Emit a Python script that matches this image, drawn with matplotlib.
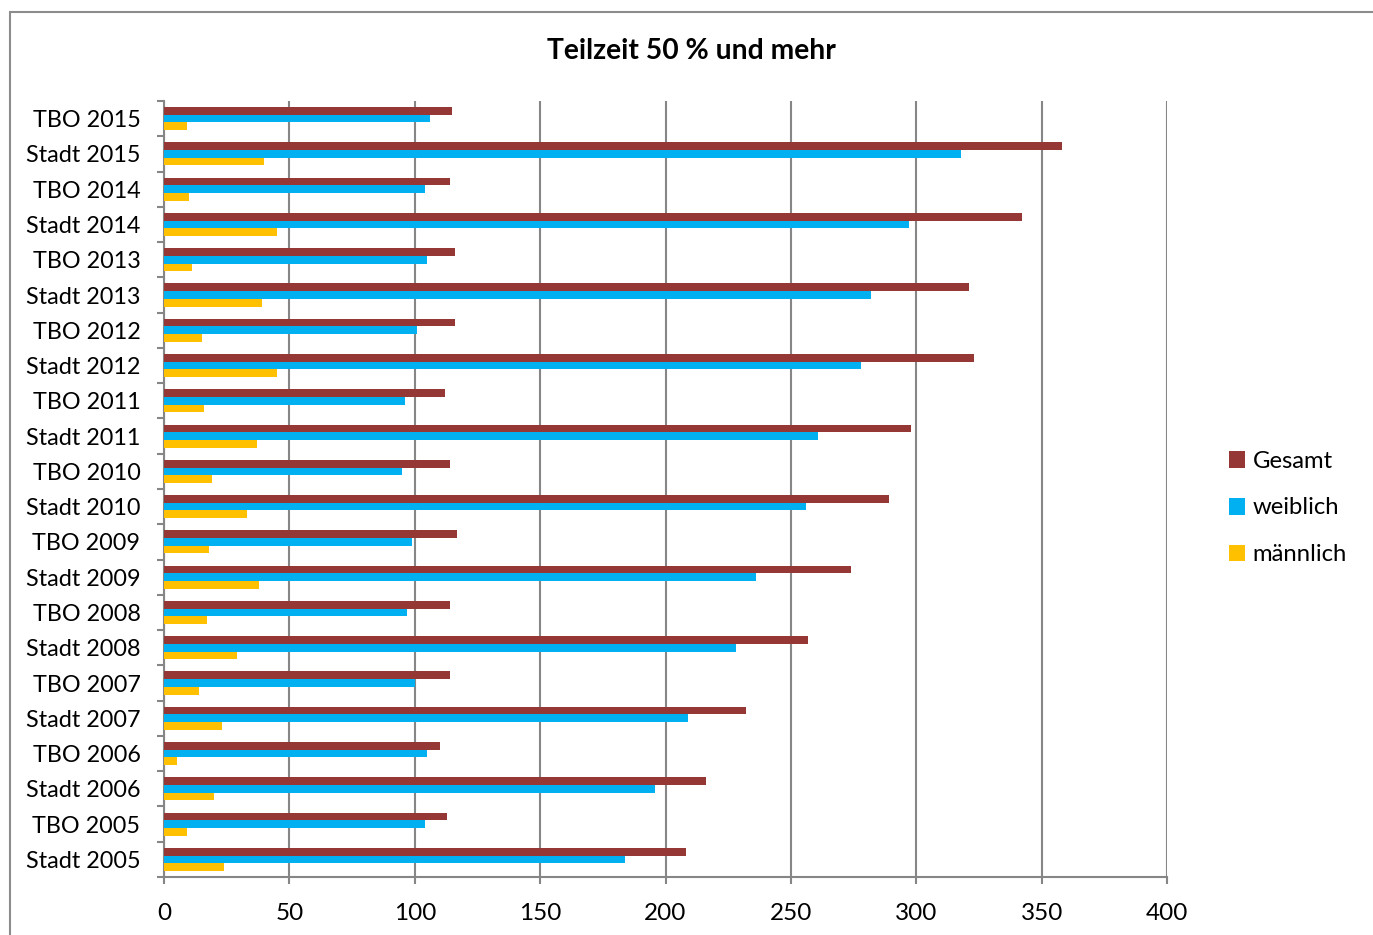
import matplotlib.pyplot as plt
from matplotlib.patches import Rectangle
import numpy as np

plt.rcParams['font.family'] = ['Lato', 'DejaVu Sans']

# rows from bottom to top
labels = ['Stadt 2005', 'TBO 2005', 'Stadt 2006', 'TBO 2006', 'Stadt 2007', 'TBO 2007',
          'Stadt 2008', 'TBO 2008', 'Stadt 2009', 'TBO 2009', 'Stadt 2010', 'TBO 2010',
          'Stadt 2011', 'TBO 2011', 'Stadt 2012', 'TBO 2012', 'Stadt 2013', 'TBO 2013',
          'Stadt 2014', 'TBO 2014', 'Stadt 2015', 'TBO 2015']
gesamt = [208, 113, 216, 110, 232, 114, 257, 114, 274, 117, 289, 114,
          298, 112, 323, 116, 321, 116, 342, 114, 358, 115]
weiblich = [184, 104, 196, 105, 209, 100, 228, 97, 236, 99, 256, 95,
            261, 96, 278, 101, 282, 105, 297, 104, 318, 106]
maennlich = [24, 9, 20, 5, 23, 14, 29, 17, 38, 18, 33, 19,
             37, 16, 45, 15, 39, 11, 45, 10, 40, 9]

c_ges = '#953735'
c_wei = '#00B0F0'
c_mae = '#FFC000'
grid_c = '#868686'

fig = plt.figure(figsize=(13.73, 9.35), dpi=100)
ax = fig.add_axes([164 / 1373, 1 - 877 / 935, (1167 - 164) / 1373, (877 - 101) / 935])

# chart area frame
fig.patches.append(Rectangle((10 / 1373, -0.1), 1.2, 1 - 12 / 935 + 0.1,
                             transform=fig.transFigure, fill=False,
                             edgecolor='#8c8c8c', linewidth=1.5))

y = np.arange(len(labels))
h = 0.218
ax.barh(y + h, gesamt, height=h, color=c_ges, label='Gesamt', zorder=3)
ax.barh(y, weiblich, height=h, color=c_wei, label='weiblich', zorder=3)
ax.barh(y - h, maennlich, height=h, color=c_mae, label='männlich', zorder=3)

ax.set_xlim(0, 400)
ax.set_ylim(-0.5, len(labels) - 0.5)
ax.set_xticks(range(0, 401, 50))
ax.set_yticks(y)
ax.set_yticklabels(labels)
ax.set_yticks(np.arange(-0.5, len(labels), 1), minor=True)

ax.xaxis.grid(True, color=grid_c, linewidth=1.5, zorder=0)
ax.set_axisbelow(True)
for s in ['top', 'right']:
    ax.spines[s].set_visible(False)
for s in ['left', 'bottom']:
    ax.spines[s].set_color(grid_c)
    ax.spines[s].set_linewidth(1.5)

ax.tick_params(axis='y', which='major', length=0, pad=17, labelsize=16.8)
ax.tick_params(axis='y', which='minor', length=5, width=1.5, color=grid_c)
ax.tick_params(axis='x', length=5, width=1.5, color=grid_c, pad=14, labelsize=17.5)

fig.text(691 / 1373, 1 - 51 / 935, 'Teilzeit 50 % und mehr', ha='center', va='center',
         fontsize=20.3, fontweight='bold')

ax.legend(loc='center left', bbox_to_anchor=(1207 / 1373, 1 - 508 / 935),
          bbox_transform=fig.transFigure, frameon=False, fontsize=17.2,
          handlelength=0.7, handleheight=0.7, handletextpad=0.3, labelspacing=1.08)

fig.savefig('out.png', dpi=100)
